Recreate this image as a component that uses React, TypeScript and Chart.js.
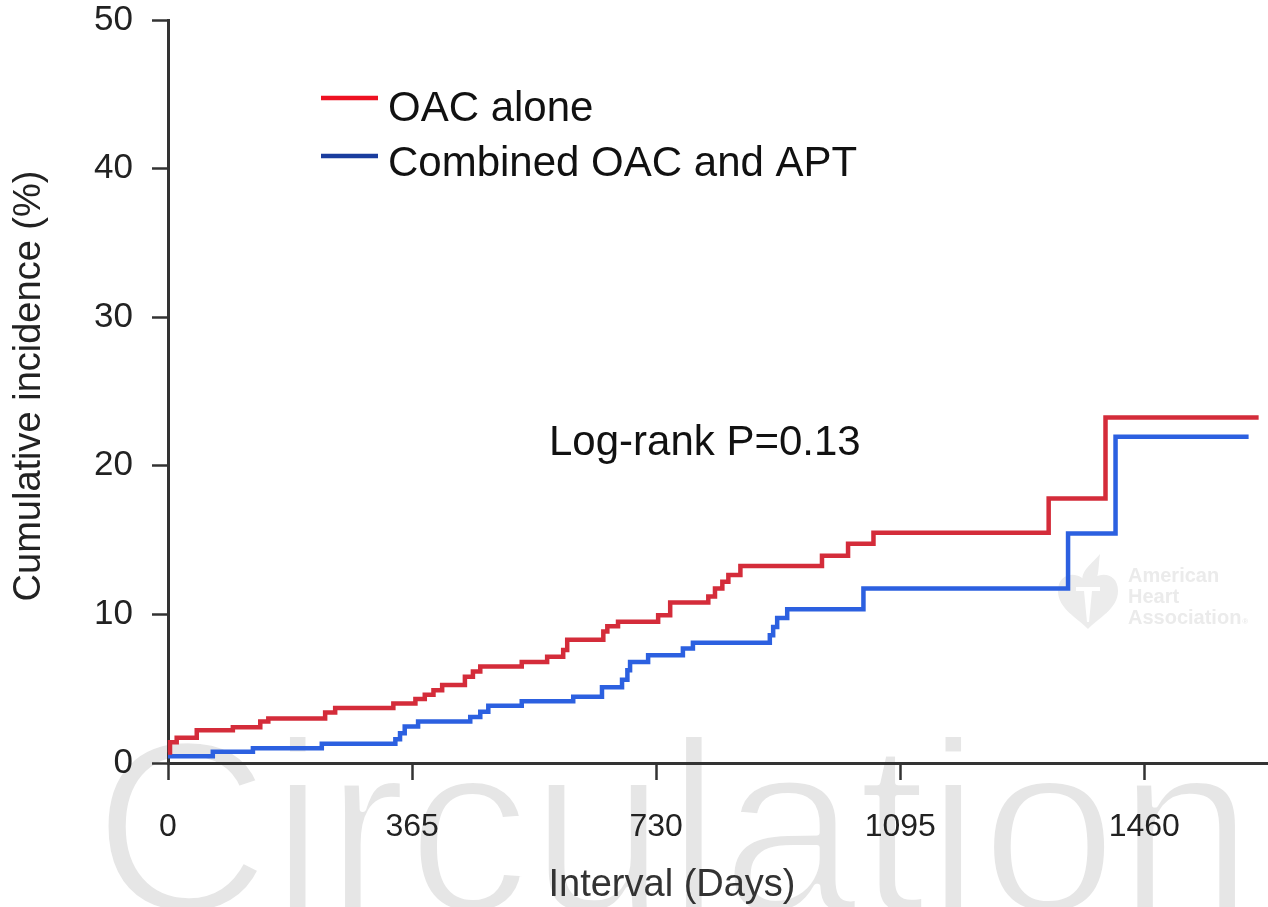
import React, { useEffect, useRef } from "react";
import { Chart, registerables } from "chart.js";

Chart.register(...registerables);

// Kaplan-Meier style cumulative incidence, day of each step and value after it
const seriesNames = ["OAC alone", "Combined OAC and APT"];

const oacDays = [0, 3, 13, 43, 97, 138, 150, 235, 250, 337, 370, 384, 397, 410, 444, 456, 467, 529, 567, 591, 597, 651, 657, 673, 733, 751, 808, 818, 829, 838, 856, 978, 1017, 1055, 1317, 1402, 1631];
const oacIncidence = [0.7, 1.4, 1.7, 2.2, 2.4, 2.8, 3.0, 3.4, 3.7, 4.0, 4.3, 4.6, 4.9, 5.25, 5.8, 6.15, 6.5, 6.8, 7.15, 7.6, 8.3, 8.85, 9.2, 9.5, 9.95, 10.8, 11.2, 11.75, 12.2, 12.65, 13.25, 13.95, 14.75, 15.5, 17.8, 23.25, 23.25];

const comboDays = [0, 67, 127, 230, 340, 347, 354, 374, 452, 467, 479, 529, 606, 649, 679, 687, 691, 718, 770, 785, 900, 905, 911, 926, 1040, 1346, 1417, 1616];
const comboIncidence = [0.45, 0.75, 1.0, 1.3, 1.6, 2.0, 2.45, 2.8, 3.1, 3.45, 3.85, 4.15, 4.45, 5.1, 5.6, 6.25, 6.8, 7.25, 7.7, 8.1, 8.6, 9.15, 9.75, 10.35, 11.75, 15.45, 21.95, 21.95];

const xTickValues = [0, 365, 730, 1095, 1460];
const yTickValues = [0, 10, 20, 30, 40, 50];

const xTitle = "Interval (Days)";
const yTitle = "Cumulative incidence (%)";
const pValueText = "Log-rank P=0.13";
const journalMark = "Circulation";
const societyLines = ["American", "Heart", "Association"];

const FONT = '"Liberation Sans", Arial, Helvetica, sans-serif';
const RED = "#d42c3a";
const BLUE = "#2c60e0";
const AXIS = "#333333";

// Journal watermark and society logo, painted underneath everything
const backdropPlugin = {
  id: "backdrop",
  beforeDraw(chart: Chart) {
    const ctx = chart.ctx;
    ctx.save();
    ctx.fillStyle = "#ffffff";
    ctx.fillRect(0, 0, chart.width, chart.height);

    // large thin word across the bottom
    ctx.font = `100px ${FONT}`;
    const m100 = ctx.measureText(journalMark);
    const w100 = m100.actualBoundingBoxLeft + m100.actualBoundingBoxRight;
    const size = (1135 / w100) * 100;
    ctx.font = `${size}px ${FONT}`;
    const m = ctx.measureText(journalMark);
    const lAsc = ctx.measureText("l").actualBoundingBoxAscent;
    const wx = 105 + m.actualBoundingBoxLeft;
    const wy = 734 + lAsc;
    ctx.textBaseline = "alphabetic";
    ctx.textAlign = "left";
    ctx.fillStyle = "#e6e6e6";
    ctx.fillText(journalMark, wx, wy);
    ctx.strokeStyle = "#ffffff";
    ctx.lineWidth = 6;
    ctx.lineJoin = "round";
    ctx.strokeText(journalMark, wx, wy);

    // heart with torch
    const cx = 1088;
    const top = 576;
    const hw = 30;
    ctx.fillStyle = "#ececec";
    ctx.beginPath();
    ctx.moveTo(cx, top + 9);
    ctx.bezierCurveTo(cx - 6, top - 5, cx - hw, top - 6, cx - hw, top + 15);
    ctx.bezierCurveTo(cx - hw, top + 33, cx - 10, top + 42, cx, top + 53);
    ctx.bezierCurveTo(cx + 10, top + 42, cx + hw, top + 33, cx + hw, top + 15);
    ctx.bezierCurveTo(cx + hw, top - 6, cx + 6, top - 5, cx, top + 9);
    ctx.fill();
    // flame
    ctx.beginPath();
    ctx.moveTo(cx - 4, top + 10);
    ctx.bezierCurveTo(cx - 10, top - 4, cx + 2, top - 10, cx + 12, top - 22);
    ctx.bezierCurveTo(cx + 10, top - 10, cx + 12, top + 2, cx + 4, top + 10);
    ctx.closePath();
    ctx.fill();
    // torch handle
    ctx.fillStyle = "#ffffff";
    ctx.fillRect(cx - 12, top + 11, 24, 4);
    ctx.beginPath();
    ctx.moveTo(cx - 4, top + 15);
    ctx.lineTo(cx + 4, top + 15);
    ctx.lineTo(cx + 1, top + 46);
    ctx.lineTo(cx - 1, top + 46);
    ctx.closePath();
    ctx.fill();

    ctx.fillStyle = "#ebebeb";
    ctx.font = `bold 20px ${FONT}`;
    societyLines.forEach((t, i) => ctx.fillText(t, 1128, 582 + i * 21));
    const aw = ctx.measureText(societyLines[2]).width;
    ctx.font = `bold 8px ${FONT}`;
    ctx.fillText("\u00ae", 1129 + aw, 624);
    ctx.restore();
  },
};

// Axis titles, in-plot legend and test statistic
const annotationPlugin = {
  id: "annotations",
  afterDraw(chart: Chart) {
    const ctx = chart.ctx;
    ctx.save();
    ctx.textBaseline = "alphabetic";

    // axis titles
    ctx.font = `38px ${FONT}`;
    ctx.fillStyle = "#333333";
    ctx.textAlign = "center";
    ctx.fillText(xTitle, 672, 896);
    ctx.save();
    ctx.translate(40, 386);
    ctx.rotate(-Math.PI / 2);
    ctx.fillStyle = "#222222";
    ctx.fillText(yTitle, 0, 0);
    ctx.restore();

    ctx.textAlign = "left";
    ctx.font = `42px ${FONT}`;
    ctx.fillStyle = "#111111";
    const legendColors = ["#ee1122", "#1a3d9e"];
    const rows = [{ lineY: 98, textY: 121 }, { lineY: 156, textY: 176 }];
    seriesNames.forEach((name, i) => {
      ctx.strokeStyle = legendColors[i];
      ctx.lineWidth = 4.5;
      ctx.beginPath();
      ctx.moveTo(321, rows[i].lineY);
      ctx.lineTo(378, rows[i].lineY);
      ctx.stroke();
      ctx.fillText(name, 388, rows[i].textY);
    });
    ctx.fillText(pValueText, 549, 455);
    ctx.restore();
  },
};

export default function App() {
  const canvasRef = useRef<HTMLCanvasElement | null>(null);

  useEffect(() => {
    if (!canvasRef.current) return;
    const toPoints = (days: number[], vals: number[]) =>
      days.map((d, i) => ({ x: d, y: vals[i] }));

    const chart = new Chart(canvasRef.current, {
      type: "line",
      data: {
        datasets: [
          {
            label: seriesNames[0],
            data: toPoints(oacDays, oacIncidence),
            borderColor: RED,
            backgroundColor: RED,
            borderWidth: 4.5,
            pointRadius: 0,
            stepped: "before",
            fill: false,
            clip: false,
            borderJoinStyle: "miter",
            borderCapStyle: "butt",
          },
          {
            label: seriesNames[1],
            data: toPoints(comboDays, comboIncidence),
            borderColor: BLUE,
            backgroundColor: BLUE,
            borderWidth: 4.5,
            pointRadius: 0,
            stepped: "before",
            fill: false,
            clip: false,
            borderJoinStyle: "miter",
            borderCapStyle: "butt",
          },
        ],
      },
      options: {
        responsive: false,
        animation: false,
        layout: { padding: { top: 20, left: 0, right: 0, bottom: 0 } },
        plugins: {
          legend: { display: false },
          tooltip: { enabled: false },
        },
        scales: {
          x: {
            type: "linear",
            min: 0,
            max: 1645,
            afterBuildTicks: (s: any) => {
              s.ticks = xTickValues.map((v) => ({ value: v }));
            },
            afterFit: (s: any) => {
              s.height = 144;
              s.paddingLeft = 0;
              s.paddingRight = 0;
            },
            grid: {
              drawOnChartArea: false,
              drawTicks: true,
              tickLength: 17,
              tickWidth: 2.5,
              tickColor: AXIS,
            },
            border: { display: true, color: AXIS, width: 3 },
            ticks: {
              color: "#222222",
              font: { family: FONT, size: 32 },
              padding: 28,
              maxRotation: 0,
              autoSkip: false,
              callback: (v: any) => String(v),
            },
            title: { display: false },
          },
          y: {
            type: "linear",
            min: 0,
            max: 50,
            afterBuildTicks: (s: any) => {
              s.ticks = yTickValues.map((v) => ({ value: v }));
            },
            afterFit: (s: any) => {
              s.width = 168;
              s.paddingTop = 0;
              s.paddingBottom = 0;
            },
            grid: {
              drawOnChartArea: false,
              drawTicks: true,
              tickLength: 16,
              tickWidth: 2.5,
              tickColor: AXIS,
            },
            border: { display: true, color: AXIS, width: 3 },
            ticks: {
              color: "#222222",
              font: { family: FONT, size: 35 },
              padding: 19,
              autoSkip: false,
              callback: (v: any) => String(v),
            },
            title: { display: false },
          },
        },
      },
      plugins: [backdropPlugin, annotationPlugin],
    } as any);

    return () => chart.destroy();
  }, []);

  return (
    <div style={{ position: "absolute", left: 0, top: 0, width: 1268, height: 907 }}>
      <canvas ref={canvasRef} width={1268} height={907} style={{ display: "block" }} />
    </div>
  );
}
